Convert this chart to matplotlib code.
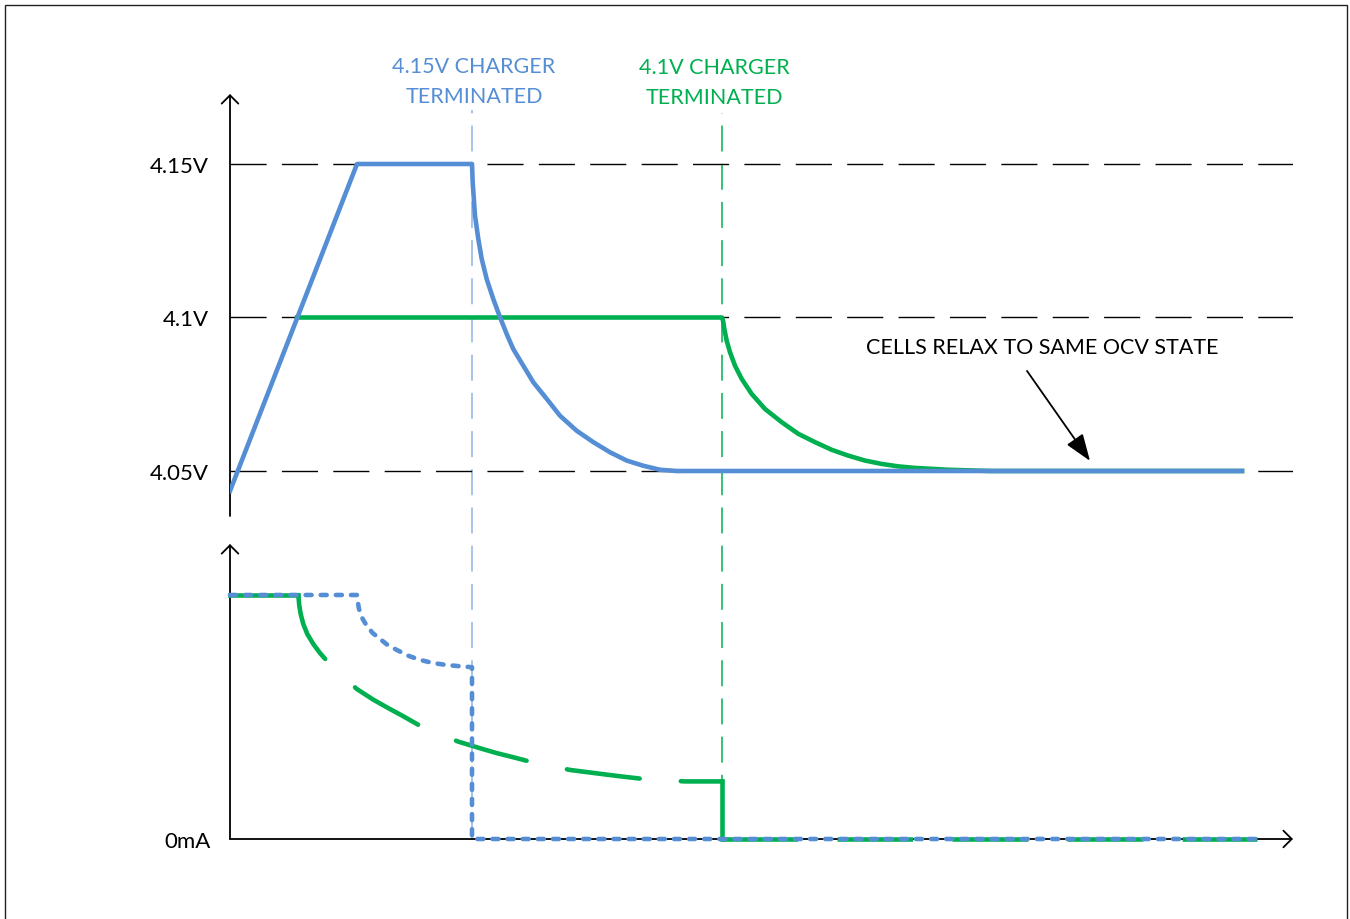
import matplotlib
matplotlib.use('Agg')
import matplotlib.pyplot as plt
import matplotlib.patches as mpatches

plt.rcParams['font.family'] = ['Lato', 'DejaVu Sans']

# Time axis is in arbitrary units (0 = start of charge)
BLUE = '#558ED5'
GREEN = '#00B050'
LIGHT_BLUE = '#8EB4E3'

# Cell charged to 4.15V: voltage
blue_v_t = [0, 12.7, 24.2, 24.27, 24.5, 24.83, 25.17, 25.67, 26.33, 27.0, 27.67, 28.33, 29.33,
            30.33, 31.67, 33.0, 34.67, 36.33, 38.0, 39.67, 41.33, 43.0, 44.67, 101.2]
blue_v = [4.0435, 4.15, 4.15, 4.1440, 4.1332, 4.1256, 4.1191, 4.1125, 4.1060, 4.1001, 4.0946,
          4.0897, 4.0843, 4.0789, 4.0735, 4.0680, 4.0631, 4.0594, 4.0561, 4.0534, 4.0517,
          4.0504, 4.05, 4.05]

# Cell charged to 4.1V: voltage
green_v_t = [6.7, 49.2, 49.3, 49.43, 49.67, 50.0, 50.5, 51.17, 52.17, 53.5, 55.17, 56.83, 58.5,
             60.17, 61.83, 63.5, 65.17, 66.83, 68.5, 70.17, 71.83, 76.0, 101.2]
green_v = [4.10, 4.10, 4.0990, 4.0963, 4.0924, 4.0887, 4.0843, 4.0800, 4.0751, 4.0702, 4.0659,
           4.0621, 4.0594, 4.0569, 4.0550, 4.0534, 4.0523, 4.0515, 4.0510, 4.0507, 4.0504,
           4.05, 4.05]

# Charge current (relative, 100 = CC level)
blue_i_t = [0, 12.7, 12.73, 12.9, 13.17, 13.67, 14.27, 15.0, 15.73, 16.67, 17.83, 19.0, 20.33,
            21.67, 23.0, 24.2, 24.2, 102.5]
blue_i = [100, 100, 98.4, 94.3, 90.9, 87.4, 84.4, 82.0, 79.6, 77.5, 75.1, 73.4, 72.1,
          71.3, 70.8, 70.4, 0, 0]

green_i_flat_t = [0, 6.83]
green_i_flat = [100, 100]
green_i_t = [6.83, 6.93, 7.07, 7.33, 7.73, 8.33, 9.0, 9.67, 12.67, 14.33, 15.67, 17.33, 19.0,
             22.83, 25.0, 26.67, 28.33, 30.0, 34.0, 36.67, 39.0, 41.33, 45.5, 49.2]
green_i = [100, 95.6, 92.2, 88.1, 84.0, 79.9, 76.2, 73.1, 61.5, 57.1, 54.0, 50.3, 46.4,
           39.9, 37.2, 35.2, 33.5, 31.7, 28.3, 26.9, 25.7, 24.6, 23.6, 23.6]
green_i_end_t = [49.2, 102.7]

t_term_415 = 24.2
t_term_41 = 49.2
v_levels = [4.15, 4.10, 4.05]
v_labels = ['4.15V', '4.1V', '4.05V']

fig = plt.figure(figsize=(13.5, 9.2), dpi=100)

# outer frame
fig.patches.append(mpatches.Rectangle((5.5 / 1350, -0.01), 1341.5 / 1350, 1.01 - 6 / 920,
                                      transform=fig.transFigure, fill=False,
                                      edgecolor='#222222', lw=1.0))

ax_v = fig.add_axes([230 / 1350, 1 - 517 / 920, 1063 / 1350, 422 / 920])
ax_i = fig.add_axes([230 / 1350, 1 - 840 / 920, 1063 / 1350, 295 / 920])
ax_v.set_zorder(2)
ax_v.patch.set_alpha(0)

xmax = 106.3
for ax in (ax_v, ax_i):
    ax.set_xlim(0, xmax)
    for s in ax.spines.values():
        s.set_visible(False)
    ax.set_xticks([])

ax_v.set_ylim(4.03534, 4.1728)
ax_i.set_ylim(0, 120.9)

# axis arrows
arrow_kw = dict(arrowstyle='->,head_length=0.3,head_width=0.3', lw=1.3, color='black',
                shrinkA=0, shrinkB=0, mutation_scale=20)
ax_v.annotate('', xy=(0, 1), xytext=(0, 0), xycoords='axes fraction', arrowprops=arrow_kw)
ax_i.annotate('', xy=(0, 1), xytext=(0, 0), xycoords='axes fraction', arrowprops=arrow_kw)
ax_i.annotate('', xy=(1, 0), xytext=(0, 0), xycoords='axes fraction', arrowprops=arrow_kw)

# reference voltage levels
for v in v_levels:
    ax_v.axhline(v, color='black', lw=1.0, ls=(0, (26, 11)), zorder=1)

ax_v.set_yticks(v_levels, v_labels)
ax_v.tick_params(axis='y', length=0, pad=15, labelsize=16)
ax_i.set_yticks([0], ['0mA'])
ax_i.tick_params(axis='y', length=0, pad=14, labelsize=16)

# charger termination markers
ax_i.axvline(t_term_415, ymin=0, ymax=2.47, clip_on=False, color=LIGHT_BLUE, lw=1.1,
             ls=(0, (17, 8)), zorder=1)
ax_i.axvline(t_term_41, ymin=0, ymax=2.46, clip_on=False, color=GREEN, lw=1.1,
             ls=(0, (17, 8)), zorder=1)

LW = 3.3
# voltage curves
ax_v.plot(green_v_t, green_v, color=GREEN, lw=LW, solid_joinstyle='round', zorder=3)
ax_v.plot(blue_v_t, blue_v, color=BLUE, lw=LW, solid_joinstyle='round', zorder=4)

# current curves
ax_i.plot(green_i_flat_t, green_i_flat, color=GREEN, lw=LW, clip_on=False, zorder=3)
ax_i.plot(green_i_t, green_i, color=GREEN, lw=LW, ls=(0.5, (16, 9)),
          dash_capstyle='round', dash_joinstyle='round', clip_on=False, zorder=3)
ax_i.plot([t_term_41, t_term_41], [green_i[-1], 0], color=GREEN, lw=LW, clip_on=False, zorder=3)
ax_i.plot(green_i_end_t, [0, 0], color=GREEN, lw=LW, ls=(0, (16.5, 8.6)),
          clip_on=False, zorder=3)
ax_i.plot(blue_i_t, blue_i, color=BLUE, lw=LW, ls=(0, (1.3, 2.0)),
          dash_capstyle='round', clip_on=False, zorder=4)

# labels
ax_v.text(24.4, 4.1770, '4.15V CHARGER\nTERMINATED', color=BLUE, fontsize=15.5,
          ha='center', va='center', linespacing=1.6, clip_on=False)
ax_v.text(48.4, 4.1767, '4.1V CHARGER\nTERMINATED', color=GREEN, fontsize=15.5,
          ha='center', va='center', linespacing=1.6, clip_on=False)
ax_v.text(81.2, 4.0904, 'CELLS RELAX TO SAME OCV STATE', color='black', fontsize=15.5,
          ha='center', va='center')
ax_v.annotate('', xy=(86.0, 4.0533), xytext=(79.7, 4.0826),
              arrowprops=dict(arrowstyle='-|>,head_length=1.1,head_width=0.4', lw=1.3,
                              color='black', shrinkA=0, shrinkB=0, mutation_scale=15))

plt.savefig('out.png', dpi=100)
